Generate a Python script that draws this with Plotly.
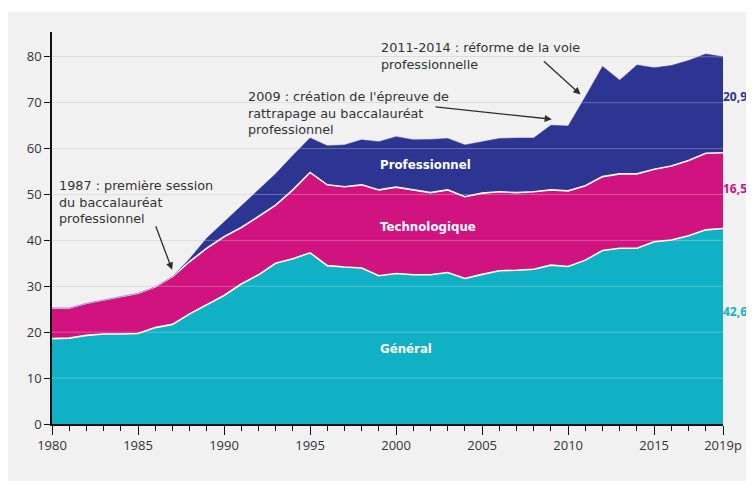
import plotly.graph_objects as go

YEARS = list(range(1980, 2020))

GENERAL = [18.6, 18.7, 19.3, 19.6, 19.6, 19.7, 21.0, 21.7, 24.0, 26.0,
           28.0, 30.5, 32.5, 35.0, 36.0, 37.3, 34.5, 34.2, 34.0, 32.3,
           32.8, 32.5, 32.5, 33.0, 31.7, 32.6, 33.4, 33.5, 33.7, 34.6,
           34.3, 35.7, 37.8, 38.3, 38.3, 39.7, 40.1, 41.0, 42.3, 42.6]

TECHNO = [6.7, 6.6, 7.0, 7.4, 8.1, 8.8, 8.9, 10.4, 11.4, 12.3,
          12.8, 12.3, 12.7, 12.7, 15.0, 17.5, 17.6, 17.5, 18.1, 18.7,
          18.8, 18.5, 17.9, 18.0, 17.8, 17.7, 17.2, 16.9, 16.9, 16.4,
          16.5, 16.2, 16.1, 16.2, 16.2, 15.8, 16.1, 16.4, 16.7, 16.5]

PRO = [0, 0, 0, 0, 0, 0, 0, 0, 0.6, 2.2,
       3.2, 4.7, 5.8, 6.8, 7.5, 7.5, 8.5, 9.1, 9.8, 10.5,
       11.0, 10.9, 11.6, 11.2, 11.3, 11.2, 11.6, 11.9, 11.7, 14.1,
       14.1, 19.4, 24.0, 20.4, 23.7, 22.1, 21.9, 21.8, 21.6, 20.9]

SERIES_NAMES = ["Général", "Technologique", "Professionnel"]
END_LABELS = ["42,6", "16,5", "20,9"]

X_TICK_VALS = [1980, 1985, 1990, 1995, 2000, 2005, 2010, 2015, 2019]
X_TICK_TEXT = ["1980", "1985", "1990", "1995", "2000", "2005", "2010", "2015", "2019p"]
Y_TICK_VALS = [0, 10, 20, 30, 40, 50, 60, 70, 80]

C_GEN = "#10b0c5"
C_TECH = "#d1137f"
C_PRO = "#2c3591"
TXT = "#333333"
FONT = "Open Sans"
NOTE_FONT = "DejaVu Sans"

fig = go.Figure()
fig.add_trace(go.Scatter(x=YEARS, y=GENERAL, name=SERIES_NAMES[0], stackgroup="one",
                         mode="lines", line=dict(color="white", width=1.6),
                         fillcolor=C_GEN))
fig.add_trace(go.Scatter(x=YEARS, y=TECHNO, name=SERIES_NAMES[1], stackgroup="one",
                         mode="lines", line=dict(color="white", width=1.6),
                         fillcolor=C_TECH))
fig.add_trace(go.Scatter(x=YEARS, y=PRO, name=SERIES_NAMES[2], stackgroup="one",
                         mode="lines", line=dict(color=C_PRO, width=0.5),
                         fillcolor=C_PRO))

shapes = [
    dict(type="rect", xref="paper", yref="paper", x0=-0.066, x1=1.05, y0=-0.145, y1=1.052,
         fillcolor="#f1f1f2", line=dict(width=0), layer="below"),
]
for v in Y_TICK_VALS[1:]:
    shapes.append(dict(type="line", xref="paper", yref="y", x0=0, x1=1, y0=v, y1=v,
                       line=dict(color="rgba(255,255,255,0.28)", width=1), layer="above"))

annotations = []
for name, yy in zip(SERIES_NAMES, [16.3, 42.9, 56.4]):
    annotations.append(dict(x=1998.97, y=yy, xref="x", yref="y", text="<b>%s</b>" % name,
                            showarrow=False, xanchor="left",
                            font=dict(family=NOTE_FONT, size=11.8, color="white")))
for lab, col, yy in zip(END_LABELS, [C_GEN, C_TECH, C_PRO], [24.6, 51.3, 71.3]):
    annotations.append(dict(x=2019, y=yy, xref="x", yref="y", text="<b>%s</b>" % lab,
                            showarrow=False, xanchor="left", xshift=-2,
                            font=dict(family=FONT, size=12, color=col)))

notes = [
    ("1987 : première session<br>du baccalauréat<br>professionnel", 1980.3, 54.0),
    ("2009 : création de l'épreuve de<br>rattrapage au baccalauréat<br>professionnel", 1991.25, 73.4),
    ("2011-2014 : réforme de la voie<br>professionnelle", 1999.0, 84.0),
]
for txt, xx, yy in notes:
    annotations.append(dict(x=xx, y=yy, xref="x", yref="y", text=txt, showarrow=False,
                            xanchor="left", yanchor="top", align="left",
                            font=dict(family=NOTE_FONT, size=12.8, color=TXT)))

arrows = [
    ((1986.0, 43.4), (1986.98, 33.6)),
    ((2002.2, 69.1), (2009.05, 66.4)),
    ((2008.5, 79.3), (2010.72, 71.8)),
]
for (tx, ty), (hx, hy) in arrows:
    annotations.append(dict(x=hx, y=hy, ax=tx, ay=ty, xref="x", yref="y", axref="x", ayref="y",
                            text="", showarrow=True, arrowhead=2, arrowsize=1.1,
                            arrowwidth=1.3, arrowcolor="#2d2d2d", standoff=0))

fig.update_layout(
    width=754, height=484,
    margin=dict(l=44, r=39, t=24, b=68),
    paper_bgcolor="white",
    plot_bgcolor="#f1f1f2",
    showlegend=False,
    font=dict(family=FONT, size=13, color=TXT),
    shapes=shapes,
    annotations=annotations,
)
fig.update_xaxes(range=[1980, 2019], tickvals=X_TICK_VALS, ticktext=X_TICK_TEXT,
                 showgrid=False, zeroline=False, showline=True, linecolor="#111111", linewidth=1.5,
                 ticks="outside", ticklen=9, tickwidth=1.3, tickcolor="#111111",
                 minor=dict(dtick=1, tick0=1980, ticks="outside", ticklen=5, tickwidth=1.2,
                            tickcolor="#111111", showgrid=False),
                 tickfont=dict(family=FONT, size=13, color=TXT), layer="above traces")
fig.update_yaxes(range=[0, 85.4], tickvals=Y_TICK_VALS, showgrid=True, gridcolor="#d4d4d6",
                 gridwidth=1, zeroline=False, showline=True, linecolor="#111111", linewidth=1.5,
                 ticks="outside", ticklen=6, tickwidth=1.3, tickcolor="#111111",
                 tickfont=dict(family=FONT, size=13, color=TXT), layer="above traces")

fig.write_html("out.html")
